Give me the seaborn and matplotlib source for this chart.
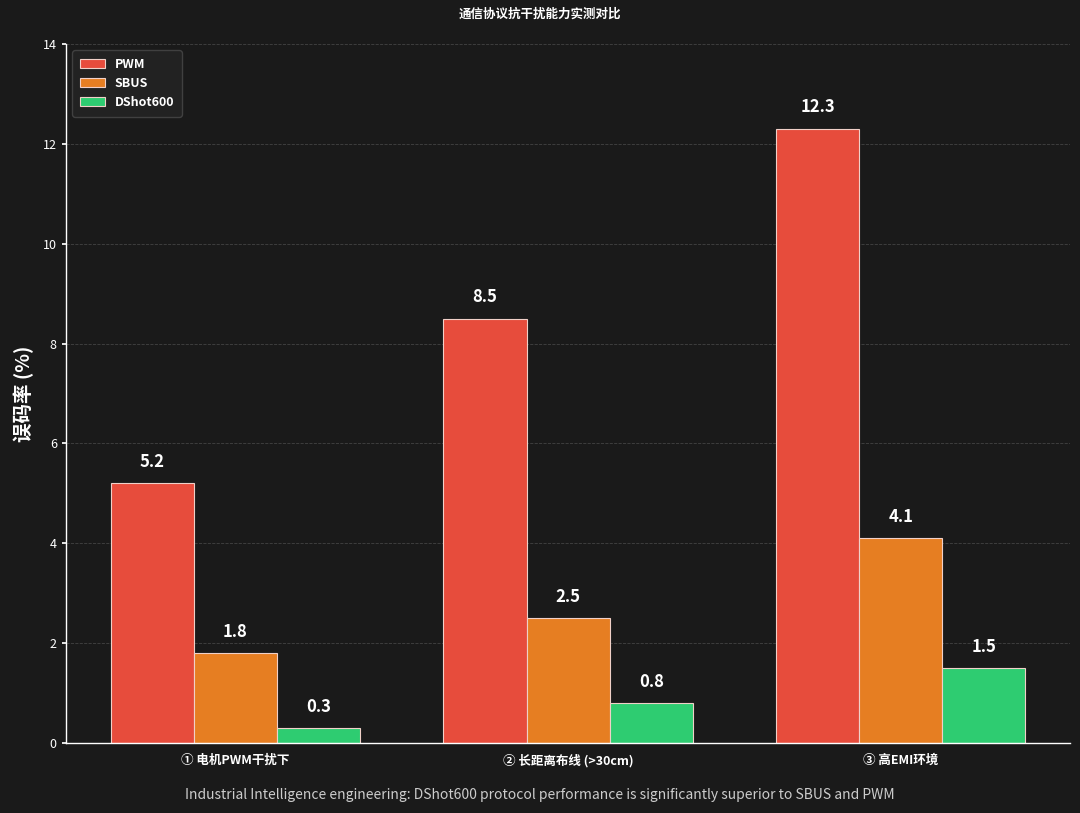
import matplotlib
matplotlib.use("Agg")
import matplotlib.pyplot as plt
import seaborn as sns
import pandas as pd

categories = ["① 电机PWM干扰下", "② 长距离布线 (>30cm)", "③ 高EMI环境"]
protocols = ["PWM", "SBUS", "DShot600"]
pwm_vals = [5.2, 8.5, 12.3]
sbus_vals = [1.8, 2.5, 4.1]
dshot_vals = [0.3, 0.8, 1.5]
colors = ["#e74c3c", "#e67e22", "#2ecc71"]

rows = []
for vals, p in zip([pwm_vals, sbus_vals, dshot_vals], protocols):
    for c, v in zip(categories, vals):
        rows.append({"场景": c, "协议": p, "误码率": v})
df = pd.DataFrame(rows)

sns.set_theme(style="dark")
plt.rcParams['font.family'] = ['Noto Sans CJK SC', 'DejaVu Sans']
bg = "#1a1a1a"
fig = plt.figure(figsize=(10.8, 8.13), dpi=100, facecolor=bg)
ax = fig.add_axes([0.061, 0.086, 0.93, 0.86])
ax.set_facecolor(bg)

sns.barplot(data=df, x="场景", y="误码率", hue="协议", hue_order=protocols,
            order=categories, palette=colors, width=0.75, saturation=1,
            edgecolor="#f0d0c8", linewidth=0.8, ax=ax, errorbar=None)

for cont in ax.containers:
    ax.bar_label(cont, fmt="%.1f", padding=9, color="white",
                 fontsize=12, fontweight="bold")

ax.set_ylim(0, 14)
ax.set_xlim(-0.51, 2.51)
ax.set_yticks(range(0, 15, 2))
ax.tick_params(axis="y", colors="white", labelsize=9, length=3, left=True)
ax.tick_params(axis="x", colors="white", labelsize=9, length=0, pad=8)
for lab in ax.get_xticklabels():
    lab.set_fontweight("bold")
ax.set_xlabel("")
ax.set_ylabel("误码率 (%)", color="white", fontsize=14, fontweight="bold", labelpad=6)
ax.yaxis.grid(True, color="#555555", linestyle="--", linewidth=0.6, alpha=0.7)
ax.xaxis.grid(False)
for s in ["top", "right"]:
    ax.spines[s].set_visible(False)
for s in ["left", "bottom"]:
    ax.spines[s].set_visible(True)
    ax.spines[s].set_color("white")
    ax.spines[s].set_linewidth(1.0)

leg = ax.legend(loc="upper left", fontsize=9, facecolor="#232323",
                edgecolor="#444444", framealpha=0.9, handlelength=2.0,
                borderpad=0.6)
for t in leg.get_texts():
    t.set_color("white")
    t.set_fontweight("bold")
leg.set_title(None)

fig.text(0.5, 0.982, "通信协议抗干扰能力实测对比", ha="center", va="center",
         color="white", fontsize=9, fontweight="bold")
fig.text(0.5, 0.022, "Industrial Intelligence engineering: DShot600 protocol performance is significantly superior to SBUS and PWM",
         ha="center", va="center", color="#cccccc", fontsize=10)

fig.savefig("out.png", dpi=100, facecolor=bg)
